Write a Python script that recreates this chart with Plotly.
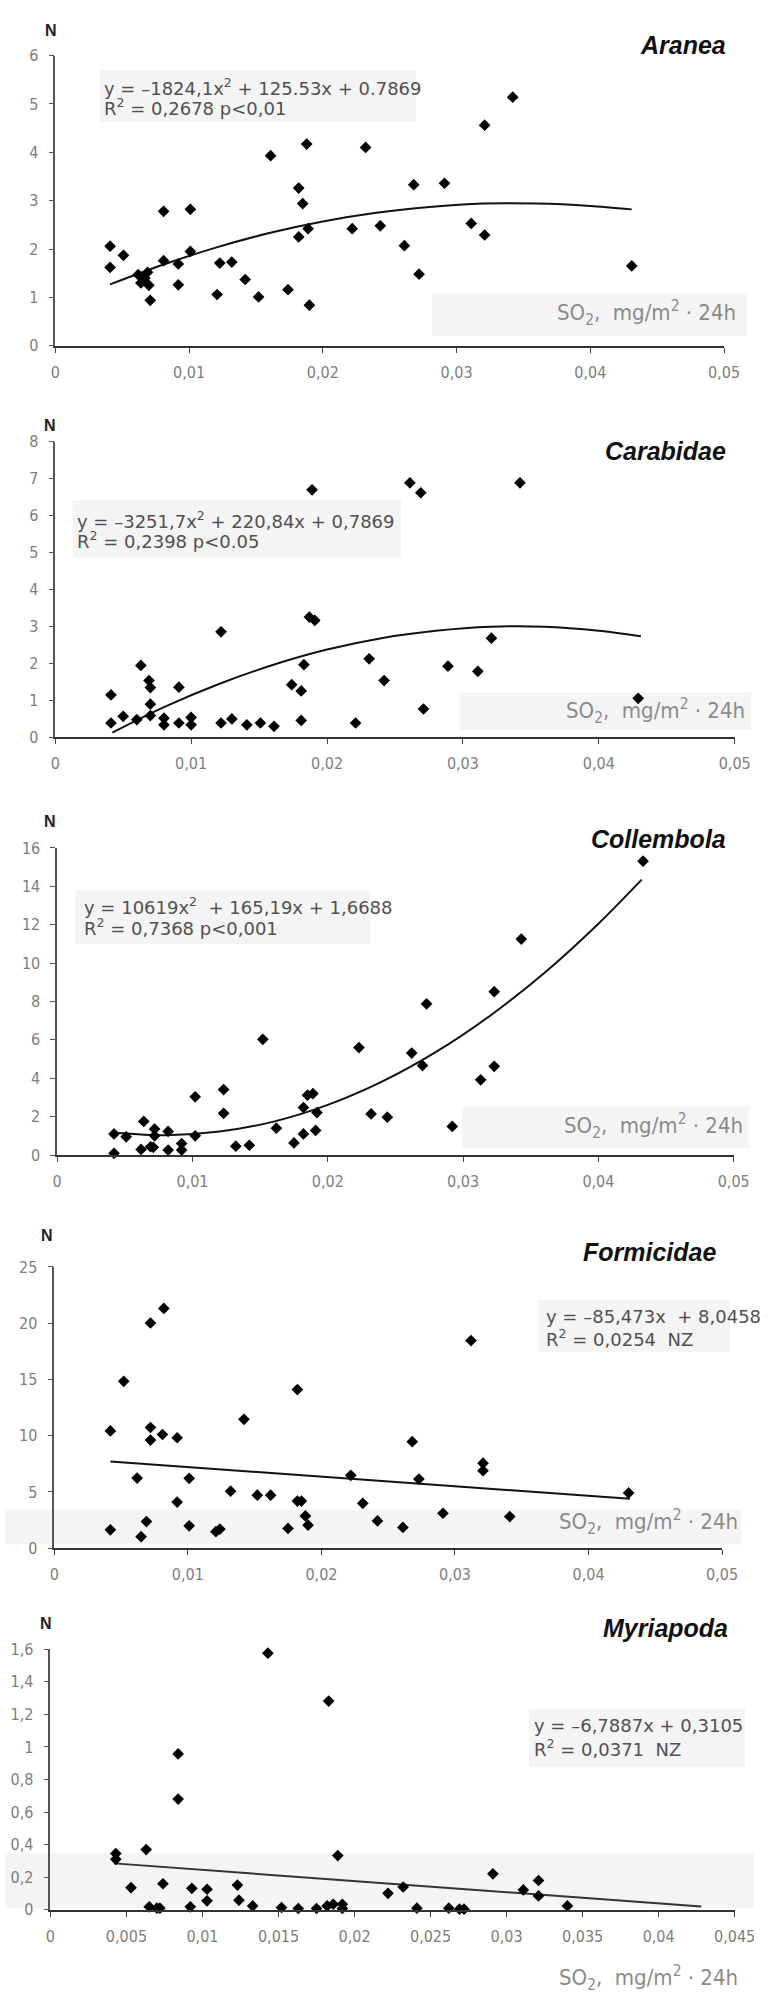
import plotly.graph_objects as go

W, H = 775, 2001

# ---------------- data ----------------
aranea_x = [0.0041, 0.0041, 0.0051, 0.0062, 0.0064, 0.0067, 0.0069, 0.0070, 0.0071, 0.0081,
            0.0081, 0.0092, 0.0092, 0.0101, 0.0101, 0.0121, 0.0123, 0.0132, 0.0142, 0.0152,
            0.0161, 0.0174, 0.0182, 0.0182, 0.0185, 0.0188, 0.0189, 0.0190, 0.0222, 0.0232,
            0.0243, 0.0261, 0.0268, 0.0272, 0.0291, 0.0311, 0.0321, 0.0321, 0.0342, 0.0431]
aranea_y = [2.06, 1.62, 1.87, 1.47, 1.30, 1.40, 1.52, 1.25, 0.94, 2.78,
            1.76, 1.69, 1.26, 2.82, 1.95, 1.06, 1.71, 1.73, 1.37, 1.01,
            3.93, 1.16, 3.26, 2.25, 2.94, 4.17, 2.42, 0.84, 2.42, 4.10,
            2.48, 2.07, 3.33, 1.48, 3.36, 2.53, 2.29, 4.56, 5.14, 1.65]
aranea_fit_x = [0.0041, 0.008, 0.012, 0.016, 0.020, 0.024, 0.028, 0.032, 0.036, 0.040, 0.0431]
aranea_fit_y = [1.27, 1.67, 2.03, 2.33, 2.57, 2.75, 2.87, 2.94, 2.94, 2.89, 2.82]

carab_x = [0.0041, 0.0041, 0.0050, 0.0060, 0.0063, 0.0069, 0.0070, 0.0070, 0.0070, 0.0080,
           0.0080, 0.0091, 0.0091, 0.0100, 0.0100, 0.0122, 0.0122, 0.0130, 0.0141, 0.0151,
           0.0161, 0.0174, 0.0181, 0.0181, 0.0183, 0.0189, 0.0187, 0.0191, 0.0221, 0.0231,
           0.0242, 0.0261, 0.0269, 0.0271, 0.0289, 0.0311, 0.0321, 0.0342, 0.0429]
carab_y = [1.14, 0.38, 0.56, 0.47, 1.94, 1.53, 1.34, 0.89, 0.58, 0.51,
           0.33, 1.35, 0.38, 0.53, 0.33, 2.85, 0.38, 0.49, 0.33, 0.38,
           0.29, 1.42, 1.25, 0.45, 1.96, 6.70, 3.25, 3.16, 0.38, 2.12,
           1.53, 6.89, 6.62, 0.76, 1.92, 1.78, 2.68, 6.89, 1.05]
carab_fit_x = [0.0042, 0.008, 0.012, 0.016, 0.020, 0.024, 0.028, 0.032, 0.036, 0.040, 0.0431]
carab_fit_y = [0.12, 0.81, 1.43, 1.95, 2.37, 2.68, 2.88, 2.99, 2.99, 2.88, 2.73]

coll_x = [0.0042, 0.0042, 0.0051, 0.0062, 0.0064, 0.0069, 0.0071, 0.0072, 0.0072, 0.0082,
          0.0082, 0.0092, 0.0092, 0.0102, 0.0102, 0.0123, 0.0123, 0.0132, 0.0142, 0.0152,
          0.0162, 0.0175, 0.0182, 0.0182, 0.0185, 0.0189, 0.0191, 0.0192, 0.0223, 0.0232,
          0.0244, 0.0262, 0.0270, 0.0273, 0.0292, 0.0313, 0.0323, 0.0323, 0.0343, 0.0433]
coll_y = [1.10, 0.09, 0.95, 0.29, 1.75, 0.43, 0.40, 1.35, 1.00, 1.23,
          0.26, 0.60, 0.26, 3.03, 1.00, 3.41, 2.17, 0.46, 0.51, 6.03,
          1.40, 0.63, 2.47, 1.10, 3.12, 3.20, 1.28, 2.21, 5.60, 2.14,
          1.97, 5.31, 4.66, 7.88, 1.49, 3.92, 8.51, 4.62, 11.25, 15.31]
coll_fit_x = [0.0042, 0.008, 0.012, 0.016, 0.020, 0.024, 0.028, 0.032, 0.036, 0.040, 0.0432]
coll_fit_y = [1.16, 1.03, 1.22, 1.74, 2.61, 3.82, 5.37, 7.26, 9.48, 12.05, 14.35]

form_x = [0.0042, 0.0042, 0.0052, 0.0062, 0.0065, 0.0069, 0.0072, 0.0072, 0.0072, 0.0082,
          0.0081, 0.0092, 0.0092, 0.0101, 0.0101, 0.0121, 0.0124, 0.0132, 0.0142, 0.0152,
          0.0162, 0.0175, 0.0182, 0.0182, 0.0185, 0.0188, 0.0190, 0.0222, 0.0231, 0.0242,
          0.0261, 0.0268, 0.0273, 0.0291, 0.0312, 0.0321, 0.0321, 0.0341, 0.0430]
form_y = [10.43, 1.64, 14.83, 6.24, 1.03, 2.37, 20.02, 10.73, 9.61, 21.31,
          10.11, 9.82, 4.10, 6.21, 1.99, 1.47, 1.70, 5.07, 11.46, 4.72,
          4.72, 1.76, 14.10, 4.19, 4.19, 2.87, 2.05, 6.48, 3.99, 2.43,
          1.85, 9.47, 6.15, 3.11, 18.46, 7.56, 6.89, 2.81, 4.92]
form_fit_x = [0.0042, 0.0431]
form_fit_y = [7.70, 4.40]

myr_x = [0.0043, 0.0043, 0.0053, 0.0063, 0.0065, 0.0070, 0.0072, 0.0074, 0.0084, 0.0084,
         0.0093, 0.0092, 0.0103, 0.0103, 0.0123, 0.0124, 0.0133, 0.0143, 0.0152, 0.0163,
         0.0175, 0.0182, 0.0183, 0.0186, 0.0189, 0.0192, 0.0192, 0.0222, 0.0232, 0.0241,
         0.0262, 0.0269, 0.0272, 0.0291, 0.0311, 0.0321, 0.0321, 0.0340]
myr_y = [0.345, 0.31, 0.136, 0.37, 0.018, 0.01, 0.01, 0.16, 0.957, 0.68,
         0.132, 0.018, 0.126, 0.055, 0.152, 0.059, 0.024, 1.576, 0.014, 0.008,
         0.008, 0.024, 1.282, 0.034, 0.333, 0.034, 0.008, 0.101, 0.14, 0.01,
         0.01, 0.004, 0.004, 0.221, 0.122, 0.18, 0.085, 0.024]
myr_fit_x = [0.0042, 0.0428]
myr_fit_y = [0.285, 0.02]

titles = ["Aranea", "Carabidae", "Collembola", "Formicidae", "Myriapoda"]
eq_line1 = [
    "y = \u20131824,1x<sup>2</sup> + 125.53x + 0.7869",
    "y = \u20133251,7x<sup>2</sup> + 220,84x + 0,7869",
    "y = 10619x<sup>2</sup>  + 165,19x + 1,6688",
    "y = \u201385,473x  + 8,0458",
    "y = \u20136,7887x + 0,3105",
]
eq_line2 = [
    "R<sup>2</sup> = 0,2678 p<0,01",
    "R<sup>2</sup> = 0,2398 p<0.05",
    "R<sup>2</sup> = 0,7368 p<0,001",
    "R<sup>2</sup> = 0,0254  NZ",
    "R<sup>2</sup> = 0,0371  NZ",
]
xlabel = "SO<sub>2</sub>,  mg/m<sup>2</sup> \u00b7 24h"

series = [
    (aranea_x, aranea_y, aranea_fit_x, aranea_fit_y),
    (carab_x, carab_y, carab_fit_x, carab_fit_y),
    (coll_x, coll_y, coll_fit_x, coll_fit_y),
    (form_x, form_y, form_fit_x, form_fit_y),
    (myr_x, myr_y, myr_fit_x, myr_fit_y),
]

# ---------------- layout geometry (pixels in the 775x2001 page) ----------------
panels = [
    dict(x0=52, x1=744, ybot=340, ytop=47, xr=[0, 0.05], xd=0.01, yr=[0, 6], yd=1,
         N=(48, 22), title=(748, 36), eq=(100, 79, 99), eqbox=(98, 62, 425, 114),
         lab=(758, 307), labbox=(442, 287, 768, 330)),
    dict(x0=52, x1=755, ybot=735, ytop=437, xr=[0, 0.05], xd=0.01, yr=[0, 8], yd=1,
         N=(47, 420), title=(748, 446), eq=(72, 516, 536), eqbox=(70, 496, 410, 554),
         lab=(768, 709), labbox=(470, 690, 772, 728)),
    dict(x0=54, x1=754, ybot=1157, ytop=847, xr=[0, 0.05], xd=0.01, yr=[0, 16], yd=2,
         N=(47, 820), title=(748, 838), eq=(80, 906, 927), eqbox=(73, 890, 378, 944),
         lab=(766, 1128), labbox=(473, 1108, 770, 1150)),
    dict(x0=51, x1=742, ybot=1554, ytop=1270, xr=[0, 0.05], xd=0.01, yr=[0, 25], yd=5,
         N=(43, 1238), title=(738, 1255), eq=(558, 1320, 1342), eqbox=(552, 1303, 750, 1356),
         lab=(760, 1527), labbox=(0, 1515, 762, 1550)),
    dict(x0=47, x1=755, ybot=1919, ytop=1656, xr=[0, 0.045], xd=0.005, yr=[0, 1.6], yd=0.2,
         N=(42, 1630), title=(750, 1635), eq=(545, 1733, 1756), eqbox=(542, 1716, 766, 1775),
         lab=(760, 1988), labbox=(0, 1862, 775, 1917)),
]


def px(x):
    return x / W


def py(y):
    return 1 - y / H


fig = go.Figure()
layout = dict(
    width=W, height=H,
    margin=dict(l=0, r=0, t=0, b=0),
    paper_bgcolor="white", plot_bgcolor="rgba(0,0,0,0)",
    showlegend=False, separators=", ",
    annotations=[], shapes=[],
)

tick_font = dict(family="DejaVu Sans Condensed, Liberation Sans Narrow, Liberation Sans",
                 size=16, color="#7d7d7d")
eq_font = dict(family="DejaVu Sans, Liberation Sans", size=18, color="#505050")

for i, (p, (sx, sy, fx, fy), title, l1, l2) in enumerate(
        zip(panels, series, titles, eq_line1, eq_line2), start=1):
    xa = "x" if i == 1 else f"x{i}"
    ya = "y" if i == 1 else f"y{i}"
    xkey = "xaxis" if i == 1 else f"xaxis{i}"
    ykey = "yaxis" if i == 1 else f"yaxis{i}"
    layout[xkey] = dict(
        domain=[px(p["x0"]), px(p["x1"])], range=p["xr"], tick0=0, dtick=p["xd"],
        anchor=ya, showline=True, linecolor="#333", linewidth=1.5,
        ticks="outside", ticklen=5, tickcolor="#444", tickwidth=1,
        showgrid=False, zeroline=False, tickfont=tick_font, ticklabelstandoff=6,
        fixedrange=True,
    )
    layout[ykey] = dict(
        domain=[py(p["ybot"]), py(p["ytop"])], range=p["yr"], tick0=0, dtick=p["yd"],
        anchor=xa, showline=True, linecolor="#555", linewidth=1.5,
        ticks="outside", ticklen=5, tickcolor="#555", tickwidth=1,
        showgrid=False, zeroline=False, tickfont=tick_font, ticklabelstandoff=7,
        fixedrange=True,
    )
    # light grey scan boxes behind texts
    for (bx0, by0, bx1, by1) in [p["eqbox"], p["labbox"]]:
        layout["shapes"].append(dict(
            type="rect", xref="paper", yref="paper", layer="below",
            x0=px(bx0), x1=px(bx1), y0=py(by1), y1=py(by0),
            fillcolor="#f4f4f4", line=dict(width=0)))

    fig.add_trace(go.Scatter(
        x=fx, y=fy, mode="lines", xaxis=xa, yaxis=ya,
        line=dict(color="#111" if i < 5 else "#333", width=2, shape="spline", smoothing=0.8),
        hoverinfo="skip"))
    fig.add_trace(go.Scatter(
        x=sx, y=sy, mode="markers", xaxis=xa, yaxis=ya, cliponaxis=False,
        marker=dict(symbol="diamond", size=9, color="#000")))

    layout["annotations"].append(dict(
        text="<b>N</b>", xref="paper", yref="paper", x=px(p["N"][0]), y=py(p["N"][1]),
        xanchor="center", yanchor="middle", showarrow=False,
        font=dict(family="Liberation Sans, Arial", size=16, color="#222")))
    layout["annotations"].append(dict(
        text=f"<b><i>{title}</i></b>", xref="paper", yref="paper",
        x=px(p["title"][0]), y=py(p["title"][1]),
        xanchor="right", yanchor="middle", showarrow=False,
        font=dict(family="Liberation Sans, Arial", size=25, color="#111")))
    for txt, yy in [(l1, p["eq"][1]), (l2, p["eq"][2])]:
        layout["annotations"].append(dict(
            text=txt, xref="paper", yref="paper", x=px(p["eq"][0]), y=py(yy),
            xanchor="left", yanchor="middle", align="left", showarrow=False,
            font=eq_font))
    layout["annotations"].append(dict(
        text=xlabel, xref="paper", yref="paper", x=px(p["lab"][0]), y=py(p["lab"][1]),
        xanchor="right", yanchor="middle", showarrow=False,
        font=dict(family="DejaVu Sans Condensed, Liberation Sans Narrow, Liberation Sans",
                  size=22, color="#8a8a8a")))

fig.update_layout(**layout)
fig.write_html("out.html")
